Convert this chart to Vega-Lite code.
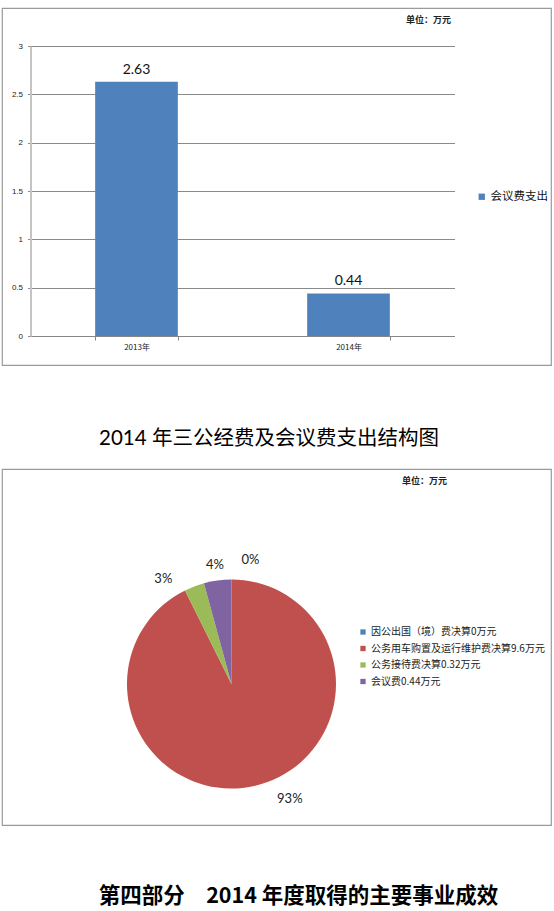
{
  "$schema": "https://vega.github.io/schema/vega-lite/v6.json",
  "background": "white",
  "padding": {"left": 1, "top": 7, "right": 2, "bottom": 5},
  "spacing": 62,
  "resolve": {"scale": {"color": "independent"}, "legend": {"color": "independent"}},
  "config": {
    "font": "Noto Sans CJK SC",
    "view": {"stroke": "#9a9a9a", "strokeWidth": 1.2},
    "axis": {"labelFont": "Noto Sans CJK SC", "labelColor": "#222", "labelFontSize": 8}
  },
  "title": {
    "text": "第四部分　2014 年度取得的主要事业成效",
    "orient": "bottom",
    "anchor": "middle",
    "offset": 60,
    "dx": 22,
    "fontSize": 21.5,
    "fontWeight": "bold",
    "font": "Noto Sans CJK SC",
    "color": "#000"
  },
  "vconcat": [
    {
      "width": 549,
      "height": 357,
      "title": {
        "text": "单位：万元",
        "anchor": "end",
        "offset": -17,
        "dx": -100,
        "fontSize": 9,
        "fontWeight": "bold",
        "color": "#222"
      },
      "data": {
        "values": [
          {"year": "2013年", "value": 2.63, "series": "会议费支出"},
          {"year": "2014年", "value": 0.44, "series": "会议费支出"}
        ]
      },
      "encoding": {
        "x": {
          "field": "year",
          "type": "nominal",
          "scale": {"range": [28.5, 452.5], "paddingInner": 0.61, "paddingOuter": 0.305},
          "axis": {
            "title": null,
            "offset": -29,
            "tickBand": "extent",
            "labelAngle": 0,
            "domainColor": "#868686",
            "tickColor": "#868686",
            "tickSize": 4,
            "labelPadding": 3
          }
        },
        "y": {
          "field": "value",
          "type": "quantitative",
          "scale": {"domain": [0, 3], "range": [328, 38], "nice": false},
          "axis": {
            "title": null,
            "offset": -28.5,
            "values": [0, 0.5, 1, 1.5, 2, 2.5, 3],
            "format": "~g",
            "grid": true,
            "gridColor": "#8a8a8a",
            "domainColor": "#c4c4c4",
            "domainWidth": 2,
            "tickColor": "#8a8a8a",
            "tickSize": 3,
            "labelPadding": 5,
            "labelFont": "Liberation Sans"
          }
        }
      },
      "layer": [
        {
          "mark": {"type": "bar"},
          "encoding": {
            "color": {
              "field": "series",
              "type": "nominal",
              "scale": {"range": ["#4F81BD"]},
              "legend": {
                "title": null,
                "orient": "none",
                "legendX": 474,
                "legendY": 183,
                "symbolType": "square",
                "symbolSize": 40,
                "labelFontSize": 11.5,
                "labelColor": "#111",
                "labelOffset": 3
              }
            }
          }
        },
        {
          "mark": {"type": "text", "baseline": "bottom", "dy": -5, "fontSize": 14, "font": "Lato", "color": "#111"},
          "encoding": {"text": {"field": "value", "type": "quantitative"}}
        }
      ]
    },
    {
      "title": {
        "text": "2014 年三公经费及会议费支出结构图",
        "anchor": "middle",
        "offset": 19,
        "dx": -7.5,
        "fontSize": 20.5,
        "fontWeight": "normal",
        "font": "Lato, Noto Sans CJK SC",
        "color": "#000"
      },
      "vconcat": [
        {
          "width": 549,
          "height": 356,
          "title": {
            "text": "单位：万元",
            "anchor": "end",
            "offset": -17,
            "dx": -104,
            "fontSize": 9,
            "fontWeight": "bold",
            "color": "#222"
          },
          "data": {
            "values": [
              {"item": "因公出国（境）费决算0万元", "amount": 0, "pct": "0%", "ord": 1},
              {"item": "公务用车购置及运行维护费决算9.6万元", "amount": 9.6, "pct": "93%", "ord": 2},
              {"item": "公务接待费决算0.32万元", "amount": 0.32, "pct": "3%", "ord": 3},
              {"item": "会议费0.44万元", "amount": 0.44, "pct": "4%", "ord": 4}
            ]
          },
          "encoding": {
            "theta": {"field": "amount", "type": "quantitative", "stack": true},
            "order": {"field": "ord", "type": "quantitative"},
            "x": {"datum": 0.418, "type": "quantitative", "scale": {"domain": [0, 1], "nice": false}, "axis": null},
            "y": {"datum": 0.396, "type": "quantitative", "scale": {"domain": [0, 1], "nice": false}, "axis": null}
          },
          "layer": [
            {
              "mark": {"type": "arc", "radius": 104.5},
              "encoding": {
                "color": {
                  "field": "item",
                  "type": "nominal",
                  "scale": {
                    "domain": ["因公出国（境）费决算0万元", "公务用车购置及运行维护费决算9.6万元", "公务接待费决算0.32万元", "会议费0.44万元"],
                    "range": ["#4F81BD", "#C0504D", "#9BBB59", "#8064A2"]
                  },
                  "legend": {
                    "title": null,
                    "orient": "none",
                    "legendX": 356,
                    "legendY": 158,
                    "symbolType": "square",
                    "symbolSize": 28,
                    "labelFontSize": 10,
                    "labelColor": "#222",
                    "labelOffset": 3,
                    "rowPadding": 6.5,
                    "labelLimit": 300
                  }
                }
              }
            },
            {
              "mark": {"type": "text", "radius": 124, "dx": 19, "fontSize": 13, "font": "Lato", "color": "#222"},
              "encoding": {"text": {"condition": {"test": "datum.ord === 1", "field": "pct", "type": "nominal"}, "value": ""}}
            },
            {
              "mark": {"type": "text", "radius": 124, "dx": 30, "dy": -6, "fontSize": 13, "font": "Lato", "color": "#222"},
              "encoding": {"text": {"condition": {"test": "datum.ord === 2", "field": "pct", "type": "nominal"}, "value": ""}}
            },
            {
              "mark": {"type": "text", "radius": 124, "dx": -24, "dy": 11, "fontSize": 13, "font": "Lato", "color": "#222"},
              "encoding": {"text": {"condition": {"test": "datum.ord === 3", "field": "pct", "type": "nominal"}, "value": ""}}
            },
            {
              "mark": {"type": "text", "radius": 124, "dy": 4, "fontSize": 13, "font": "Lato", "color": "#222"},
              "encoding": {"text": {"condition": {"test": "datum.ord === 4", "field": "pct", "type": "nominal"}, "value": ""}}
            }
          ]
        }
      ]
    }
  ]
}
